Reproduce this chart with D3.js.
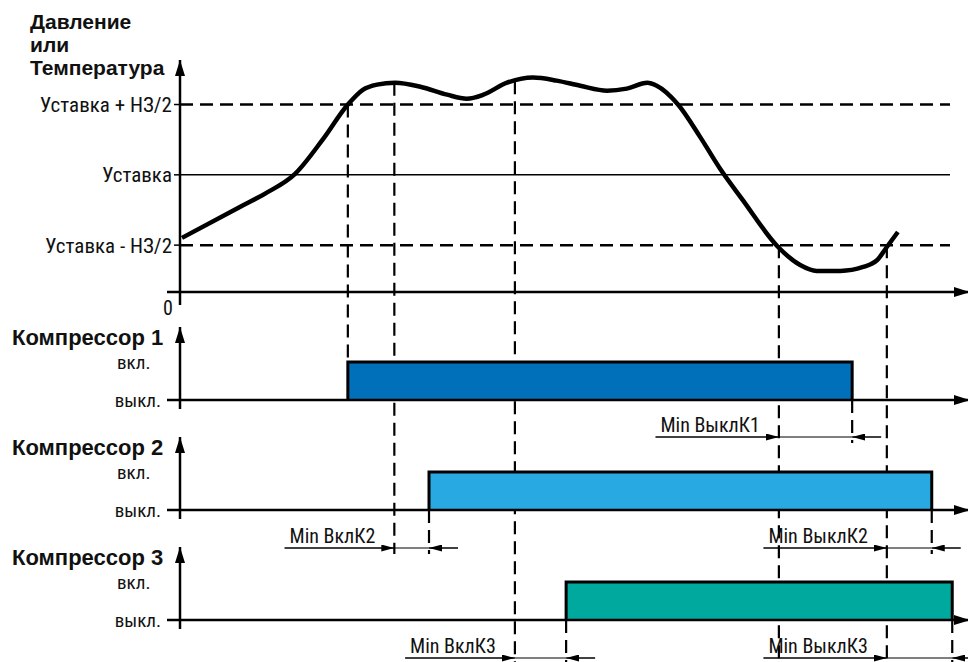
<!DOCTYPE html>
<html><head><meta charset="utf-8">
<script src="https://cdn.jsdelivr.net/npm/d3@7"></script>
<style>
body{margin:0;background:#fff}
text{font-family:"Roboto Condensed","Liberation Sans Narrow",sans-serif;fill:#111}
.bold{font-family:"Liberation Sans",Arial,sans-serif;font-weight:bold}
</style></head><body>
<svg id="c" width="968" height="662"></svg>
<script>
// ---- data ----
const titleLines = ["Давление", "или", "Температура"];
const levelLabels = ["Уставка + НЗ/2", "Уставка", "Уставка - НЗ/2"];
const levelValues = [80, 50, 20];
const levelDashed = [true, false, true];
const zeroLabel = "0";
// process curve (time, value)
const curveT = [0.25, 7.6, 10.8, 14.6, 18.1, 21.3, 23.2, 25.0, 27.3, 30.5, 33.9, 36.4, 38.5, 41.5, 44.8, 47.8, 50.8, 54.2, 56.7, 59.3, 60.5, 63.2, 66.0, 68.5, 71.4, 75.9, 78.7, 80.8, 83.8, 86.7, 88.5, 89.7, 91.1];
const curveV = [23.1, 36.3, 42.0, 50.4, 65.0, 80.0, 86.3, 88.5, 89.3, 87.6, 84.2, 82.5, 84.2, 89.3, 91.5, 90.2, 88.0, 85.9, 86.8, 89.3, 88.0, 80.0, 66.2, 52.8, 39.3, 19.2, 11.5, 9.0, 9.0, 10.7, 13.7, 19.2, 25.6];
const compNames = ["Компрессор 1", "Компрессор 2", "Компрессор 3"];
const stateLabels = ["вкл.", "выкл."];
const compOn = [21.3, 31.6, 49.0];
const compOff = [85.3, 95.4, 98.0];
const minOnLabels = [null, "Min ВклК2", "Min ВклК3"];
const minOnStart = [null, 27.2, 42.5];
const minOffLabels = ["Min ВыклК1", "Min ВыклК2", "Min ВыклК3"];
const minOffStart = [76.0, 89.7, 89.7];
const compColors = ["#0070bb", "#29a9e1", "#00a99d"];

// ---- layout ----
const svg = d3.select("#c");
const x = d3.scaleLinear().domain([0, 100]).range([180, 968]);
const y = d3.scaleLinear().domain([0, 99]).range([292, 60]);
const panelBase = [400, 510, 620];
const panelTop = [327, 437, 547];
const barH = 38;
const annOff = [37, 38, 38];
const bottomY = 662;

const defs = svg.append("defs");
defs.append("marker").attr("id","big").attr("viewBox","0 0 16 10").attr("refX",16).attr("refY",5)
  .attr("markerWidth",16).attr("markerHeight",10).attr("markerUnits","userSpaceOnUse").attr("orient","auto")
  .append("path").attr("d","M0,0L16,5L0,10Z").attr("fill","#000");
defs.append("marker").attr("id","small").attr("viewBox","0 0 13 7").attr("refX",13).attr("refY",3.5)
  .attr("markerWidth",13).attr("markerHeight",7).attr("markerUnits","userSpaceOnUse").attr("orient","auto")
  .append("path").attr("d","M0,0L13,3.5L0,7Z").attr("fill","#000");

const dash = "13,7";

function curveAt(t){
  const i = d3.bisectLeft(curveT, t);
  if (i <= 0) return curveV[0];
  if (i >= curveT.length) return curveV[curveV.length-1];
  const a = (t - curveT[i-1])/(curveT[i]-curveT[i-1]);
  return curveV[i-1] + a*(curveV[i]-curveV[i-1]);
}

// ---- top chart ----
const g = svg.append("g");
titleLines.forEach((s,i)=>{
  g.append("text").attr("class","bold").attr("x",30).attr("y",29+i*23).attr("font-size",21).text(s);
});
levelValues.forEach((v,i)=>{
  g.append("line").attr("x1",x(0)).attr("x2",950).attr("y1",y(v)).attr("y2",y(v))
    .attr("stroke","#000").attr("stroke-width",levelDashed[i]?2.5:1.5)
    .attr("stroke-dasharray",levelDashed[i]?dash:null);
  g.append("line").attr("x1",x(0)-6).attr("x2",x(0)).attr("y1",y(v)).attr("y2",y(v)).attr("stroke","#000").attr("stroke-width",1.5);
  g.append("text").attr("x",x(0)-8).attr("y",y(v)).attr("dy","0.36em").attr("text-anchor","end")
    .attr("font-size",21).text(levelLabels[i]);
});
g.append("line").attr("x1",x(0)).attr("x2",x(0)).attr("y1",y(0)+13).attr("y2",y(99))
  .attr("stroke","#000").attr("stroke-width",2.5).attr("marker-end","url(#big)");
g.append("line").attr("x1",167).attr("x2",970).attr("y1",y(0)).attr("y2",y(0))
  .attr("stroke","#000").attr("stroke-width",2.5).attr("marker-end","url(#big)");
g.append("text").attr("x",168).attr("y",315).attr("text-anchor","middle").attr("font-size",20).text(zeroLabel);

// ---- guides ----
const guides = [];
guides.push([compOn[0], y(levelValues[0]), panelBase[0]-barH]);
guides.push([minOnStart[1], y(curveAt(minOnStart[1])), panelBase[1]+annOff[1]+6]);
guides.push([minOnStart[2], y(curveAt(minOnStart[2])), bottomY]);
guides.push([minOffStart[0], y(levelValues[2]), bottomY]);
guides.push([minOffStart[1], y(levelValues[2]), bottomY]);
for (let k=0;k<3;k++){
  const end = k===2 ? bottomY : panelBase[k]+annOff[k]+6;
  if (k>0) guides.push([compOn[k], panelBase[k], end]);
  guides.push([compOff[k], panelBase[k], end]);
}
svg.append("g").selectAll("line").data(guides).join("line")
  .attr("x1",d=>x(d[0])).attr("x2",d=>x(d[0])).attr("y1",d=>d[1]).attr("y2",d=>d[2])
  .attr("stroke","#000").attr("stroke-width",2.2).attr("stroke-dasharray",dash);

const line = d3.line().x((d,i)=>x(curveT[i])).y((d,i)=>y(curveV[i])).curve(d3.curveMonotoneX);
g.append("path").attr("d",line(curveT)).attr("fill","none").attr("stroke","#000").attr("stroke-width",4.5).attr("stroke-linejoin","round");

// ---- compressor panels ----
compNames.forEach((name,k)=>{
  const base = panelBase[k];
  const ys = d3.scaleLinear().domain([0,1]).range([base, base-barH]);
  const p = svg.append("g");
  p.append("text").attr("class","bold").attr("x",12).attr("y",panelTop[k]+18).attr("font-size",22).text(name);
  p.append("text").attr("x",117).attr("y",ys(1)).attr("dy","0.36em").attr("font-size",19).text(stateLabels[0]);
  p.append("text").attr("x",161).attr("y",ys(0)).attr("dy","0.36em").attr("text-anchor","end").attr("font-size",19).text(stateLabels[1]);
  p.append("rect").attr("x",x(compOn[k])).attr("y",ys(1)).attr("width",x(compOff[k])-x(compOn[k])).attr("height",ys(0)-ys(1))
    .attr("fill",compColors[k]);
  p.append("path").attr("d",`M${x(compOn[k])},${ys(0)}V${ys(1)}H${x(compOff[k])}V${ys(0)}`)
    .attr("fill","none").attr("stroke","#000").attr("stroke-width",3);
  p.append("line").attr("x1",x(0)).attr("x2",x(0)).attr("y1",base+9).attr("y2",panelTop[k])
    .attr("stroke","#000").attr("stroke-width",2.5).attr("marker-end","url(#big)");
  p.append("line").attr("x1",167).attr("x2",970).attr("y1",base).attr("y2",base)
    .attr("stroke","#000").attr("stroke-width",2.5).attr("marker-end","url(#big)");

  const ay = base + annOff[k];
  const ann = [];
  if (minOnLabels[k]) ann.push([minOnLabels[k], minOnStart[k], compOn[k]]);
  ann.push([minOffLabels[k], minOffStart[k], compOff[k]]);
  ann.forEach(([lab, t0, t1])=>{
    const tx = p.append("text").attr("x",x(t0)-19).attr("y",ay-5).attr("text-anchor","end").attr("font-size",20).text(lab);
    const w = tx.node().getComputedTextLength();
    p.append("line").attr("x1",x(t0)-19-w-5).attr("x2",x(t0)).attr("y1",ay).attr("y2",ay)
      .attr("stroke","#000").attr("stroke-width",1.5).attr("marker-end","url(#small)");
    p.append("line").attr("x1",x(t0)).attr("x2",x(t1)).attr("y1",ay).attr("y2",ay).attr("stroke","#000").attr("stroke-width",1.2);
    p.append("line").attr("x1",Math.min(x(t1)+29, 968)).attr("x2",x(t1)).attr("y1",ay).attr("y2",ay)
      .attr("stroke","#000").attr("stroke-width",1.5).attr("marker-end","url(#small)");
  });
});
</script></body></html>
